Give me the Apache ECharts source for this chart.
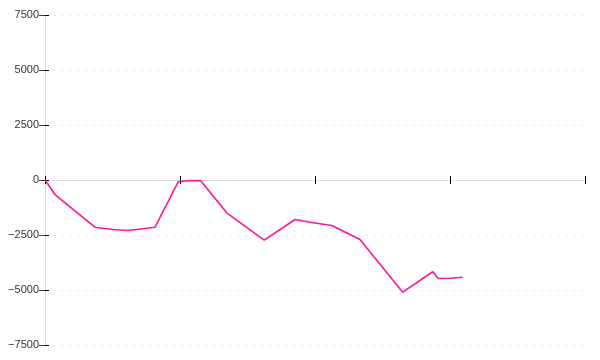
<!DOCTYPE html>
<html><head><meta charset="utf-8">
<script src="https://cdn.jsdelivr.net/npm/echarts@6/dist/echarts.min.js"></script>
<style>html,body{margin:0;padding:0;background:#fff}#c{width:600px;height:360px}</style>
</head><body><div id="c"></div>
<script>
var xValues = [0, 0.074, 0.370, 0.506, 0.605, 0.679, 0.815, 0.987, 1.061, 1.152, 1.346, 1.624, 1.852, 1.963, 2.124, 2.333, 2.650, 2.872, 2.913, 3.0, 3.013, 3.093];
var yValues = [0, -660, -2145, -2250, -2295, -2250, -2145, -82, -36, -23, -1490, -2736, -1795, -1918, -2068, -2704, -5100, -4172, -4477, -4463, -4418, -4418];
var yTicks = [-7500, -5000, -2500, 0, 2500, 5000, 7500];

var data = xValues.map(function (x, i) { return [x, yValues[i]]; });
var chart = echarts.init(document.getElementById('c'));
var tickStyle = { color: '#000', width: 1 };
chart.setOption({
  animation: false,
  grid: { left: 45, right: 15, top: 15, bottom: 15 },
  xAxis: [{
    type: 'value', min: 0, max: 4, interval: 1,
    axisLine: { onZero: true, lineStyle: { color: '#ddd' } },
    axisTick: { show: true, length: 4, lineStyle: tickStyle },
    axisLabel: { show: false }, splitLine: { show: false }
  }, {
    type: 'value', min: 0, max: 4, interval: 1, position: 'bottom',
    axisLine: { onZero: true, show: false },
    axisTick: { show: true, inside: true, length: 4, lineStyle: tickStyle },
    axisLabel: { show: false }, splitLine: { show: false }
  }],
  yAxis: [{
    type: 'value', min: yTicks[0], max: yTicks[yTicks.length - 1], interval: 2500,
    axisLine: { show: true, lineStyle: { color: '#ddd' } },
    axisTick: { show: true, length: 6, lineStyle: { color: '#444', width: 1 } },
    axisLabel: { color: '#333', fontSize: 11, fontFamily: 'Liberation Sans', margin: 6,
      formatter: function (v) { return v < 0 ? '\u2212' + Math.abs(v) : String(v); } },
    splitLine: { show: true, lineStyle: { color: '#eee', type: [3, 5] } }
  }, {
    type: 'value', min: yTicks[0], max: yTicks[yTicks.length - 1], interval: 2500, position: 'left',
    axisLine: { show: false },
    axisTick: { show: true, inside: true, length: 4, lineStyle: tickStyle },
    axisLabel: { show: false }, splitLine: { show: false }
  }],
  series: [{
    type: 'line', data: data, xAxisIndex: 0, yAxisIndex: 0,
    showSymbol: false, symbol: 'none',
    lineStyle: { color: '#ff1493', width: 1.6 }
  }]
});
</script></body></html>
